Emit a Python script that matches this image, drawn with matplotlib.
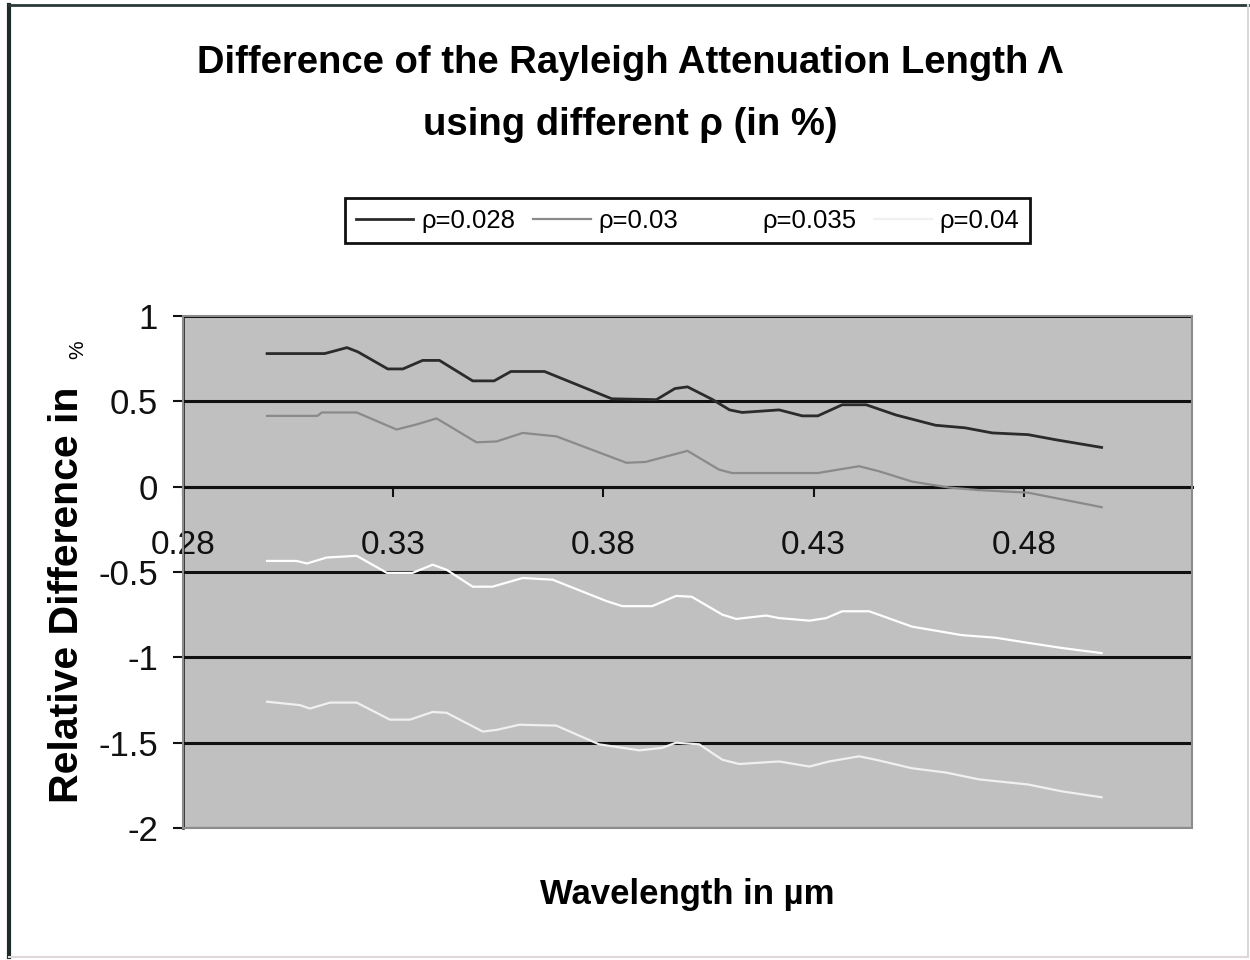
import numpy as np
import matplotlib
matplotlib.use('Agg')
import matplotlib.pyplot as plt
from matplotlib.lines import Line2D
from matplotlib.patches import Rectangle
from matplotlib.ticker import FormatStrFormatter

plt.rcParams['font.family'] = ['Liberation Sans', 'DejaVu Sans']
plt.rcParams['axes.unicode_minus'] = False

# Дані
labels = ['ρ=0.028', 'ρ=0.03', 'ρ=0.035', 'ρ=0.04']

wl1 = [0.300, 0.3137, 0.319, 0.3216, 0.3287, 0.3323, 0.337, 0.341, 0.3489, 0.354, 0.358,
       0.366, 0.382, 0.3926, 0.397, 0.400, 0.406, 0.410, 0.413, 0.4218, 0.4273, 0.431,
       0.4368, 0.4425, 0.4496, 0.459, 0.466, 0.4725, 0.481, 0.4876, 0.4985]
d1 = [0.78, 0.78, 0.815, 0.79, 0.69, 0.69, 0.74, 0.74, 0.62, 0.62, 0.675,
      0.675, 0.515, 0.51, 0.575, 0.585, 0.51, 0.45, 0.435, 0.45, 0.415, 0.415,
      0.48, 0.48, 0.42, 0.36, 0.345, 0.315, 0.305, 0.275, 0.23]

wl2 = [0.300, 0.312, 0.313, 0.3213, 0.3308, 0.3356, 0.3403, 0.3427, 0.3498, 0.3546, 0.3608,
       0.3688, 0.3855, 0.390, 0.400, 0.4075, 0.4106, 0.4218, 0.431, 0.4408, 0.4456,
       0.4534, 0.4622, 0.4693, 0.481, 0.4985]
d2 = [0.415, 0.415, 0.435, 0.435, 0.335, 0.365, 0.40, 0.365, 0.26, 0.265, 0.315,
      0.295, 0.14, 0.145, 0.21, 0.10, 0.08, 0.08, 0.08, 0.12, 0.09,
      0.03, -0.005, -0.02, -0.035, -0.12]

wl3 = [0.300, 0.307, 0.3095, 0.3142, 0.3213, 0.3285, 0.3346, 0.3394, 0.3427, 0.3489, 0.3536,
       0.3608, 0.3679, 0.3807, 0.3845, 0.3916, 0.3973, 0.401, 0.4083, 0.4116, 0.4187,
       0.4218, 0.429, 0.433, 0.4368, 0.4432, 0.4534, 0.4653, 0.4733, 0.481, 0.489, 0.4985]
d3 = [-0.435, -0.435, -0.45, -0.415, -0.405, -0.505, -0.505, -0.457, -0.487, -0.586, -0.586,
      -0.535, -0.545, -0.67, -0.70, -0.70, -0.64, -0.645, -0.75, -0.775, -0.755,
      -0.77, -0.785, -0.77, -0.73, -0.73, -0.82, -0.87, -0.885, -0.915, -0.945, -0.975]

wl4 = [0.300, 0.3078, 0.3102, 0.315, 0.3213, 0.3292, 0.334, 0.3394, 0.3427, 0.3513, 0.3546,
       0.360, 0.3688, 0.379, 0.3886, 0.394, 0.3973, 0.4028, 0.4083, 0.4123, 0.4218,
       0.429, 0.4337, 0.4408, 0.4448, 0.4534, 0.4615, 0.4693, 0.481, 0.489, 0.4985]
d4 = [-1.26, -1.28, -1.30, -1.265, -1.265, -1.365, -1.365, -1.32, -1.325, -1.435, -1.425,
      -1.395, -1.40, -1.51, -1.545, -1.53, -1.50, -1.51, -1.60, -1.625, -1.61,
      -1.64, -1.61, -1.58, -1.60, -1.65, -1.675, -1.715, -1.745, -1.785, -1.82]

x_ticks = [0.28, 0.33, 0.38, 0.43, 0.48]
y_ticks = [-2, -1.5, -1, -0.5, 0, 0.5, 1]

# Стиль
COLORS = ['#2b2b2b', '#8a8a8a', '#ffffff', '#f0f0f0']
WIDTHS = [2.0, 1.6, 1.6, 1.6]
PLOT_BG = '#c0c0c0'

fig = plt.figure(figsize=(12.5, 9.6), dpi=100)
ax = fig.add_axes([0.1464, 0.1375, 0.8072, 0.5333])
ax.set_facecolor(PLOT_BG)

series = [(wl1, d1), (wl2, d2), (wl3, d3), (wl4, d4)]
for (x, y), c, lw, lab in zip(series, COLORS, WIDTHS, labels):
    ax.plot(x, y, color=c, lw=lw, label=lab, zorder=3)

ax.set_xlim(0.28, 0.52)
ax.set_ylim(-2, 1)
ax.set_xticks(x_ticks)
ax.set_yticks(y_ticks)
ax.xaxis.set_major_formatter(FormatStrFormatter('%.2f'))
ax.yaxis.set_major_formatter(FormatStrFormatter('%g'))

ax.set_axisbelow(True)
ax.grid(axis='y', color='#111111', lw=2.2)
ax.grid(axis='x', visible=False)

# Вісь X перетинає Y у нулі
ax.spines['bottom'].set_position(('data', 0))
ax.spines['bottom'].set_color('#111111')
ax.spines['bottom'].set_linewidth(2.2)
ax.spines['left'].set_color('#111111')
ax.spines['left'].set_linewidth(1.8)
ax.spines['top'].set_visible(False)
ax.spines['right'].set_visible(False)
ax.add_patch(Rectangle((0, 0), 1, 1, transform=ax.transAxes, fill=False,
                       edgecolor='#8c8c8c', lw=1.5, zorder=4, clip_on=False))

ax.tick_params(axis='x', direction='out', length=7, width=1.5, pad=24,
               labelsize=24, colors='#111111')
ax.tick_params(axis='y', direction='out', length=7, width=1.5, pad=11,
               labelsize=25, colors='#111111')

# Заголовок і підписи
fig.text(0.504, 0.934, 'Difference of the Rayleigh Attenuation Length Λ',
         ha='center', va='center', fontsize=27.5, fontweight='bold')
fig.text(0.504, 0.870, 'using different ρ (in %)',
         ha='center', va='center', fontsize=27.5, fontweight='bold')
fig.text(0.55, 0.068, 'Wavelength in µm', ha='center', va='center',
         fontsize=25, fontweight='bold')
fig.text(0.054, 0.380, 'Relative Difference in', ha='center', va='center',
         rotation=90, fontsize=29.5, fontweight='bold')
fig.text(0.062, 0.636, '%', ha='center', va='center', rotation=90, fontsize=15)

leg = ax.legend(loc='center', bbox_to_anchor=(0.55, 0.7703),
                bbox_transform=fig.transFigure, ncol=4, fontsize=18.5,
                frameon=True, fancybox=False, framealpha=1, edgecolor='#111111',
                handlelength=2.25, handletextpad=0.3, columnspacing=0.7,
                borderpad=0.4)
leg.get_frame().set_linewidth(2)

# Рамка діаграми
fig.add_artist(Line2D([0.0075, 0.0075], [0.003, 0.995], color='#1e2a2a', lw=3))
fig.add_artist(Line2D([0.0075, 0.998], [0.995, 0.995], color='#2a3a3a', lw=2))
fig.add_artist(Line2D([0.998, 0.998], [0.003, 0.995], color='#d8d8d8', lw=1.5))
fig.add_artist(Line2D([0.0075, 0.998], [0.003, 0.003], color='#e0d8d8', lw=1.5))

fig.savefig('out.png', dpi=100, facecolor='white')
